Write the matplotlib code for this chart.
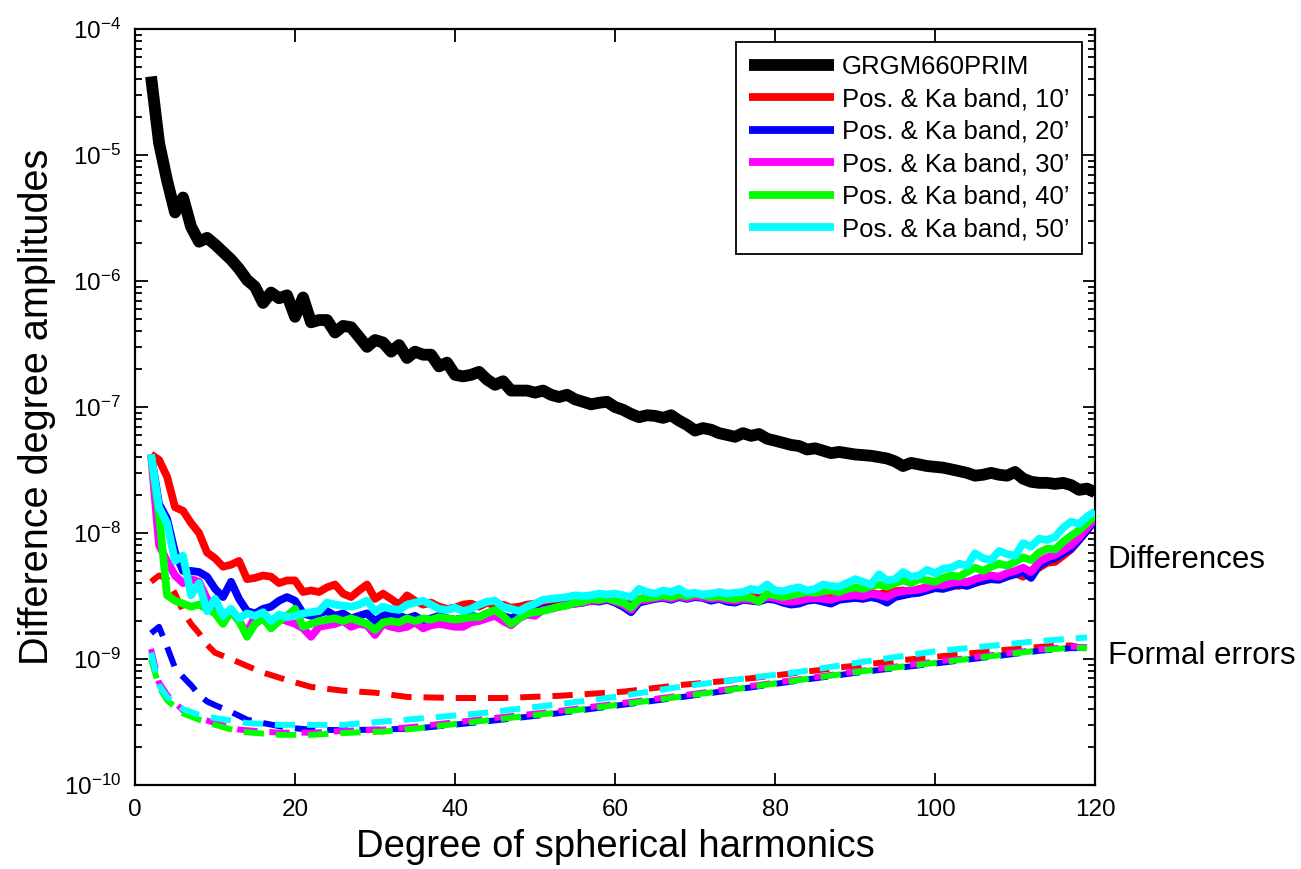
import numpy as np
import matplotlib
matplotlib.use("Agg")
import matplotlib.pyplot as plt

plt.rcParams['font.family'] = ['Liberation Sans', 'DejaVu Sans']
plt.rcParams['mathtext.fontset'] = 'custom'
plt.rcParams['mathtext.rm'] = 'Liberation Sans'
plt.rcParams['mathtext.it'] = 'Liberation Sans:italic'
plt.rcParams['mathtext.bf'] = 'Liberation Sans:bold'

# ---------------- data ----------------
degrees = np.arange(2, 121)

# GRGM660PRIM signal degree amplitudes
grgm = [4.2e-5, 1.25e-5, 6.3e-6, 3.5e-6, 4.6e-6, 2.7e-6, 2.05e-6, 2.2e-6, 1.95e-6, 1.7e-6,
        1.48e-6, 1.25e-6, 1.02e-6, 9.0e-7, 6.7e-7, 8.1e-7, 7.3e-7, 7.7e-7, 5.2e-7, 7.4e-7,
        4.7e-7, 4.9e-7, 4.9e-7, 3.9e-7, 4.4e-7, 4.3e-7, 3.6e-7, 3.0e-7, 3.4e-7, 3.25e-7,
        2.75e-7, 3.1e-7, 2.45e-7, 2.75e-7, 2.6e-7, 2.6e-7, 2.1e-7, 2.25e-7, 1.8e-7, 1.75e-7,
        1.8e-7, 1.9e-7, 1.65e-7, 1.5e-7, 1.6e-7, 1.35e-7, 1.35e-7, 1.35e-7, 1.3e-7, 1.35e-7,
        1.25e-7, 1.2e-7, 1.25e-7, 1.15e-7, 1.1e-7, 1.05e-7, 1.08e-7, 1.1e-7, 1.0e-7, 9.5e-8,
        8.8e-8, 8.3e-8, 8.6e-8, 8.5e-8, 8.2e-8, 8.6e-8, 7.8e-8, 7.2e-8, 6.5e-8, 6.8e-8,
        6.6e-8, 6.2e-8, 6.0e-8, 5.8e-8, 6.2e-8, 5.9e-8, 6.1e-8, 5.6e-8, 5.4e-8, 5.2e-8,
        5.0e-8, 4.9e-8, 4.6e-8, 4.7e-8, 4.5e-8, 4.3e-8, 4.4e-8, 4.3e-8, 4.2e-8, 4.15e-8,
        4.1e-8, 4.0e-8, 3.9e-8, 3.7e-8, 3.4e-8, 3.6e-8, 3.5e-8, 3.4e-8, 3.35e-8, 3.3e-8,
        3.2e-8, 3.1e-8, 3.0e-8, 2.85e-8, 2.9e-8, 3.0e-8, 2.9e-8, 2.85e-8, 3.05e-8, 2.7e-8,
        2.55e-8, 2.5e-8, 2.5e-8, 2.45e-8, 2.5e-8, 2.4e-8, 2.2e-8, 2.25e-8, 2.1e-8]

UNIT = 1e-9  # colored series below are given in units of 1e-9

# Differences (solid), degrees 2..120
diff_10 = [42, 38, 28, 16, 15, 12, 10, 7, 6.3, 5.4,
           5.6, 6.0, 4.3, 4.4, 4.6, 4.5, 4.0, 4.2, 4.2, 3.4,
           3.5, 3.4, 3.7, 3.9, 3.3, 3.1, 3.5, 3.9, 3.0, 3.3,
           3.0, 2.7, 3.2, 2.9, 2.7, 2.8, 2.6, 2.5, 2.55, 2.7,
           2.75, 2.6, 2.8, 2.65, 2.7, 2.55, 2.6, 2.7, 2.75, 2.65,
           2.8, 2.7, 2.9, 2.95, 2.85, 3.0, 3.05, 3.0, 2.9, 2.85,
           2.7, 3.0, 3.05, 3.1, 3.2, 3.15, 3.3, 3.2, 3.25, 3.1,
           3.15, 3.05, 3.0, 3.1, 3.0, 3.1, 3.05, 3.2, 3.15, 3.0,
           2.95, 2.9, 3.0, 3.0, 3.1, 3.05, 3.15, 3.2, 3.25, 3.2,
           3.35, 3.25, 3.4, 3.45, 3.5, 3.4, 3.6, 3.7, 3.65, 3.8,
           3.9, 3.8, 4.1, 4.2, 4.15, 4.4, 4.3, 4.6, 4.8, 4.5,
           5.0, 5.3, 5.8, 5.9, 6.6, 7.4, 8.8, 10.5, 13.0]
diff_20 = [42, 17, 13, 7, 5.0, 5.0, 4.9, 4.5, 3.6, 3.1,
           4.1, 3.0, 2.4, 2.3, 2.5, 2.6, 2.9, 3.1, 2.9, 2.3,
           2.2, 2.3, 2.4, 2.2, 2.3, 2.1, 2.2, 2.3, 2.0, 2.2,
           2.3, 2.2, 2.1, 2.2, 2.0, 2.1, 2.2, 2.1, 2.05, 2.1,
           2.2, 2.15, 2.3, 2.4, 2.2, 2.1, 2.25, 2.4, 2.35, 2.5,
           2.55, 2.6, 2.7, 2.75, 2.8, 2.9, 2.85, 2.95, 2.8, 2.6,
           2.35, 2.8, 2.9, 3.0, 3.05, 2.95, 3.1, 3.0, 3.1, 3.05,
           2.9, 3.0, 2.85, 2.8, 2.95, 2.9, 2.85, 3.0, 2.95, 2.8,
           2.7, 2.75, 2.9, 2.95, 2.85, 2.75, 2.95, 3.0, 3.05, 3.0,
           3.1, 3.0, 2.8, 3.1, 3.2, 3.3, 3.35, 3.5, 3.65, 3.6,
           3.75, 3.9, 3.8, 4.0, 4.2, 4.3, 4.25, 4.5, 4.7, 4.9,
           4.4, 5.5, 6.0, 6.3, 6.9, 7.5, 8.8, 10.5, 12.6]
diff_30 = [42, 8, 6, 4.6, 4.0, 4.3, 4.1, 3.0, 2.6, 2.3,
           2.4, 2.0, 1.6, 2.2, 2.1, 2.0, 2.1, 2.0, 1.9, 1.75,
           1.5, 1.8, 1.85, 1.9, 2.0, 1.8, 1.9, 1.85, 1.55, 1.9,
           1.8, 1.75, 1.8, 1.95, 1.75, 1.85, 1.9, 1.85, 1.8, 1.8,
           1.95, 2.0, 2.1, 2.2, 2.0, 1.85, 2.1, 2.25, 2.2, 2.45,
           2.5, 2.6, 2.7, 2.75, 2.8, 2.9, 2.9, 3.0, 2.85, 2.7,
           2.45, 2.9, 2.95, 3.05, 3.1, 3.0, 3.15, 3.05, 3.15, 3.1,
           3.0, 3.05, 2.95, 2.9, 3.0, 2.95, 2.9, 3.1, 3.05, 2.9,
           2.85, 2.9, 3.0, 3.05, 3.0, 2.95, 3.1, 3.15, 3.2, 3.15,
           3.3, 3.2, 3.1, 3.35, 3.45, 3.5, 3.55, 3.7, 3.9, 3.85,
           4.0, 4.1, 4.05, 4.3, 4.5, 4.6, 4.5, 4.8, 5.0, 5.3,
           4.9, 5.9, 6.4, 6.7, 7.3, 8.0, 9.2, 11.0, 13.0]
diff_40 = [42, 14, 3.2, 2.9, 2.75, 2.6, 2.7, 2.5, 2.3, 1.9,
           2.4, 2.0, 1.5, 1.9, 2.1, 1.75, 2.0, 2.2, 2.5, 1.8,
           1.9, 2.0, 2.05, 2.1, 2.0, 2.1, 2.0, 1.9, 1.7, 1.95,
           2.0, 1.95, 2.1, 2.0, 2.1, 2.05, 2.15, 2.1, 2.05, 2.1,
           2.15, 2.15, 2.3, 2.45, 2.2, 1.9, 2.1, 2.3, 2.35, 2.4,
           2.5, 2.6, 2.65, 2.8, 2.85, 3.0, 2.95, 3.05, 2.9, 2.8,
           2.55, 3.0, 3.05, 3.1, 3.2, 3.1, 3.25, 3.15, 3.3, 3.2,
           3.1, 3.15, 3.05, 3.0, 3.1, 3.05, 2.85, 3.3, 3.2, 3.1,
           3.2, 3.3, 3.4, 3.35, 3.45, 3.5, 3.4, 3.6, 3.7, 3.6,
           3.8, 3.9, 3.75, 4.0, 4.2, 4.0, 4.3, 4.2, 4.1, 4.4,
           4.6, 4.5, 4.9, 5.3, 5.0, 5.4, 5.7, 5.5, 5.9, 6.4,
           6.1, 7.0, 7.5, 7.4, 8.5, 9.5, 10.5, 12.0, 13.8]
diff_50 = [42, 16, 12, 6.0, 6.6, 3.2, 4.0, 2.4, 3.0, 2.2,
           2.5, 2.1, 2.3, 2.2, 2.35, 2.0, 2.25, 2.15, 2.2, 2.3,
           2.35, 2.4, 2.8, 2.7, 2.65, 2.6, 2.7, 2.9, 2.4, 2.6,
           2.5, 2.45, 2.7, 2.8, 2.9, 2.7, 2.5, 2.45, 2.55, 2.4,
           2.5, 2.7, 2.85, 2.9, 2.6, 2.5, 2.4, 2.6, 2.75, 2.95,
           3.0, 3.05, 3.1, 3.2, 3.15, 3.2, 3.3, 3.25, 3.3, 3.2,
           3.1, 3.6, 3.4, 3.3, 3.5, 3.4, 3.6, 3.3, 3.35, 3.25,
           3.3, 3.4, 3.3, 3.35, 3.4, 3.6, 3.5, 3.9, 3.5, 3.45,
           3.6, 3.7, 3.5, 3.6, 3.9, 3.8, 3.75, 4.0, 4.3, 4.1,
           3.9, 4.7, 4.2, 4.3, 4.9, 4.5, 4.6, 5.1, 4.8, 5.2,
           5.3, 5.7, 5.5, 6.9, 6.3, 6.1, 7.2, 6.8, 6.6, 8.3,
           7.8, 9.0, 8.8, 9.3, 11.0, 12.3, 11.8, 13.5, 14.8]

# Formal errors (dashed)
fe10_deg = [2, 3, 4, 5, 6, 7, 8, 9, 10, 12, 14, 16, 19, 22, 26, 30, 34, 40, 46, 53,
            61, 68, 75, 83, 89, 96, 102, 108, 114, 117, 120]
fe10 = [4.1, 4.6, 4.3, 3.3, 2.4, 1.9, 1.6, 1.3, 1.12, 1.0, 0.88, 0.78, 0.68, 0.6, 0.56,
        0.54, 0.5, 0.49, 0.49, 0.51, 0.55, 0.62, 0.68, 0.78, 0.87, 0.98, 1.07, 1.17,
        1.26, 1.28, 1.17]
fe20_deg = [2, 3, 4, 5, 6, 7, 8, 9, 10, 12, 14, 16, 19, 22, 26, 30, 35, 43, 52, 60,
            68, 77, 83, 91, 100, 108, 113, 117, 119]
fe20 = [1.6, 1.8, 1.25, 0.85, 0.72, 0.62, 0.52, 0.46, 0.43, 0.38, 0.33, 0.31, 0.285,
        0.275, 0.272, 0.275, 0.28, 0.315, 0.365, 0.425, 0.495, 0.595, 0.675, 0.79,
        0.92, 1.06, 1.16, 1.22, 1.22]
fe30_deg = [2, 3, 4, 6, 8, 10, 13, 18, 22, 27, 31, 35, 43, 52, 60, 68, 77, 83, 91,
            100, 108, 113, 117, 119]
fe30 = [1.2, 0.65, 0.52, 0.39, 0.34, 0.31, 0.275, 0.26, 0.26, 0.27, 0.275, 0.29,
        0.33, 0.38, 0.44, 0.51, 0.61, 0.69, 0.81, 0.95, 1.09, 1.19, 1.25, 1.24]
fe40_deg = [2, 3, 4, 6, 8, 10, 13, 18, 22, 27, 31, 35, 43, 52, 60, 68, 77, 83, 91,
            100, 108, 113, 117, 119]
fe40 = [1.0, 0.6, 0.47, 0.37, 0.33, 0.3, 0.265, 0.25, 0.25, 0.26, 0.265, 0.28, 0.32,
        0.37, 0.43, 0.5, 0.6, 0.68, 0.8, 0.93, 1.07, 1.17, 1.23, 1.22]
fe50_deg = [2, 3, 4, 6, 8, 10, 14, 18, 22, 26, 30, 34, 43, 52, 60, 68, 77, 83, 91,
            100, 108, 112, 117, 119]
fe50 = [1.12, 0.62, 0.5, 0.4, 0.36, 0.34, 0.31, 0.3, 0.3, 0.3, 0.315, 0.33, 0.37,
        0.43, 0.5, 0.6, 0.71, 0.79, 0.95, 1.15, 1.29, 1.37, 1.45, 1.48]

labels = ["GRGM660PRIM", "Pos. & Ka band, 10\u2019", "Pos. & Ka band, 20\u2019",
          "Pos. & Ka band, 30\u2019", "Pos. & Ka band, 40\u2019", "Pos. & Ka band, 50\u2019"]
colors = ["#ff0000", "#0000ff", "#ff00ff", "#00ff00", "#00ffff"]

# ---------------- plot ----------------
fig = plt.figure(figsize=(13.01, 8.69), dpi=100)
ax = fig.add_axes([0.1038, 0.0967, 0.7379, 0.8699])

# dashed formal errors
for d, v, c in zip([fe10_deg, fe20_deg, fe30_deg, fe40_deg, fe50_deg],
                   [fe10, fe20, fe30, fe40, fe50], colors):
    ln, = ax.plot(d, np.array(v) * UNIT, color=c, lw=4.3, dash_capstyle='butt')
    ln.set_dashes((3.4, 2.0))

# black signal
ax.plot(degrees, grgm, color='k', lw=8.5, label=labels[0], solid_joinstyle='round',
        solid_capstyle='butt', zorder=3)
# solid differences
for v, c, lab in zip([diff_10, diff_20, diff_30, diff_40, diff_50], colors, labels[1:]):
    ax.plot(degrees, np.array(v) * UNIT, color=c, lw=5.6, label=lab,
            solid_joinstyle='round', solid_capstyle='butt', zorder=3)

ax.set_yscale('log')
ax.set_xlim(0, 120)
ax.set_ylim(1e-10, 1e-4)
ax.set_xticks(np.arange(0, 121, 20))
ax.tick_params(which='both', direction='in', top=True, right=True, width=1.3)
ax.tick_params(which='major', length=9, labelsize=17.5, pad=10)
ax.tick_params(which='minor', length=5)
for s in ax.spines.values():
    s.set_linewidth(1.6)

ax.set_xlabel("Degree of spherical harmonics", fontsize=27.5, labelpad=6)
ax.set_ylabel("Difference degree amplitudes", fontsize=28.5, labelpad=6)

leg = ax.legend(loc='upper right', bbox_to_anchor=(0.9865, 0.983), borderaxespad=0,
                fontsize=18.5, handlelength=3.3, handletextpad=0.32, labelspacing=0.33,
                fancybox=False, framealpha=1, edgecolor='k', borderpad=0.5)
leg.get_frame().set_linewidth(1.3)

ax.text(121.6, 6.1e-9, "Differences", fontsize=22.5, va='center', ha='left', clip_on=False)
ax.text(121.6, 1.05e-9, "Formal errors", fontsize=22.5, va='center', ha='left', clip_on=False)

fig.savefig("out.png", dpi=100)
